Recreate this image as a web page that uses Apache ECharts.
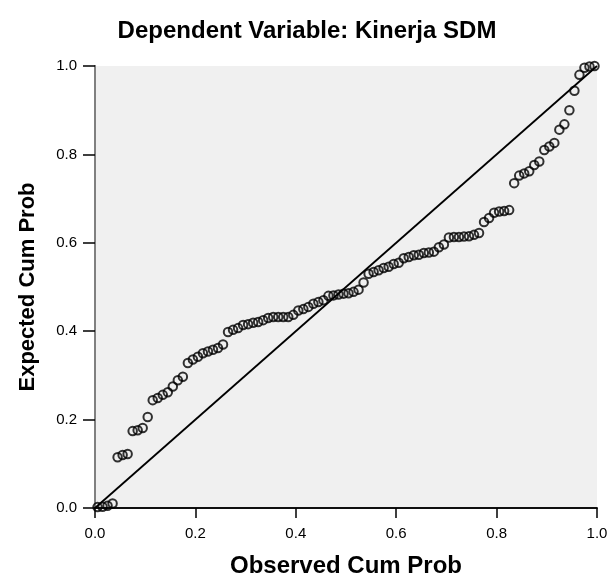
<!DOCTYPE html>
<html>
<head>
<meta charset="utf-8">
<script src="https://cdn.jsdelivr.net/npm/echarts@6/dist/echarts.min.js"></script>
<style>html,body{margin:0;padding:0;background:#fff;}#c{width:614px;height:578px;}</style>
</head>
<body>
<div id="c"></div>
<script>
const titleText = "Dependent Variable: Kinerja SDM";
const xAxisTitle = "Observed Cum Prob";
const yAxisTitle = "Expected Cum Prob";
const tickValues = [0, 0.2, 0.4, 0.6, 0.8, 1.0];

const observed = [
0.005,0.015,0.025,0.035,0.045,0.055,0.065,0.075,0.085,0.095,
0.105,0.115,0.125,0.135,0.145,0.155,0.165,0.175,0.185,0.195,
0.205,0.215,0.225,0.235,0.245,0.255,0.265,0.275,0.285,0.295,
0.305,0.315,0.325,0.335,0.345,0.355,0.365,0.375,0.385,0.395,
0.405,0.415,0.425,0.435,0.445,0.455,0.465,0.475,0.485,0.495,
0.505,0.515,0.525,0.535,0.545,0.555,0.565,0.575,0.585,0.595,
0.605,0.615,0.625,0.635,0.645,0.655,0.665,0.675,0.685,0.695,
0.705,0.715,0.725,0.735,0.745,0.755,0.765,0.775,0.785,0.795,
0.805,0.815,0.825,0.835,0.845,0.855,0.865,0.875,0.885,0.895,
0.905,0.915,0.925,0.935,0.945,0.955,0.965,0.975,0.985,0.995
];
const expected = [
0.002,0.003,0.005,0.010,0.115,0.120,0.122,0.174,0.176,0.181,
0.206,0.244,0.249,0.256,0.262,0.275,0.289,0.297,0.328,0.336,
0.342,0.350,0.354,0.358,0.362,0.370,0.398,0.403,0.407,0.414,
0.416,0.419,0.421,0.425,0.430,0.432,0.432,0.432,0.432,0.437,
0.447,0.450,0.455,0.462,0.466,0.470,0.480,0.481,0.483,0.485,
0.486,0.489,0.494,0.510,0.530,0.534,0.538,0.543,0.546,0.552,
0.555,0.565,0.568,0.572,0.573,0.577,0.578,0.580,0.590,0.596,
0.612,0.613,0.613,0.614,0.615,0.618,0.622,0.647,0.656,0.668,
0.671,0.672,0.674,0.735,0.752,0.757,0.762,0.776,0.784,0.810,
0.818,0.826,0.856,0.868,0.900,0.944,0.980,0.996,0.999,1.000
];
const diagonal = [[0, 0], [1, 1]];

const points = observed.map((x, i) => [x, expected[i]]);
const FONT = "'Liberation Sans', Arial, sans-serif";

const chart = echarts.init(document.getElementById('c'), null, {renderer: 'canvas'});
chart.setOption({
  animation: false,
  backgroundColor: '#ffffff',
  title: {
    text: titleText,
    left: 'center',
    top: 14,
    textStyle: {fontFamily: FONT, fontWeight: 'bold', fontSize: 24, color: '#000'}
  },
  grid: {left: 95, right: 17, top: 66, bottom: 70, show: true, backgroundColor: '#f0f0f0', borderWidth: 0,
    containLabel: false, outerBoundsMode: 'none'},
  xAxis: [{
    type: 'value', min: 0, max: 1, interval: 0.2, position: 'bottom',
    name: xAxisTitle, nameLocation: 'middle', nameGap: 46,
    nameTextStyle: {fontFamily: FONT, fontWeight: 'bold', fontSize: 24, color: '#000'},
    axisLine: {show: true, lineStyle: {color: '#000', width: 1.5}},
    axisTick: {show: true, length: 10, lineStyle: {color: '#000', width: 1.5}},
    axisLabel: {margin: 18, fontFamily: FONT, fontSize: 15, color: '#000',
      formatter: v => v.toFixed(1)},
    splitLine: {show: false}
  }, {
    type: 'value', min: 0, max: 1, position: 'top',
    axisLine: {show: true, lineStyle: {color: '#000', width: 1.5}},
    axisTick: {show: false}, axisLabel: {show: false}, splitLine: {show: false}
  }],
  yAxis: [{
    type: 'value', min: 0, max: 1, interval: 0.2, position: 'left',
    name: yAxisTitle, nameLocation: 'middle', nameGap: 56, nameRotate: 90,
    nameTextStyle: {fontFamily: FONT, fontWeight: 'bold', fontSize: 22, color: '#000'},
    axisLine: {show: true, lineStyle: {color: '#000', width: 1.5}},
    axisTick: {show: true, length: 12, lineStyle: {color: '#000', width: 1.5}},
    axisLabel: {margin: 18, fontFamily: FONT, fontSize: 15, color: '#000',
      formatter: v => v.toFixed(1)},
    splitLine: {show: false}
  }, {
    type: 'value', min: 0, max: 1, position: 'right',
    axisLine: {show: true, lineStyle: {color: '#808080', width: 2}},
    axisTick: {show: false}, axisLabel: {show: false}, splitLine: {show: false}
  }],
  series: [{
    type: 'line', data: diagonal, xAxisIndex: 0, yAxisIndex: 0,
    showSymbol: false, symbol: 'none', silent: true,
    lineStyle: {color: '#000', width: 1.8}, z: 2
  }, {
    type: 'scatter', data: points, xAxisIndex: 0, yAxisIndex: 0,
    symbol: 'circle', symbolSize: 8.5,
    itemStyle: {color: 'rgba(0,0,0,0)', borderColor: '#000', borderWidth: 2},
    z: 3
  }]
});
</script>
</body>
</html>
